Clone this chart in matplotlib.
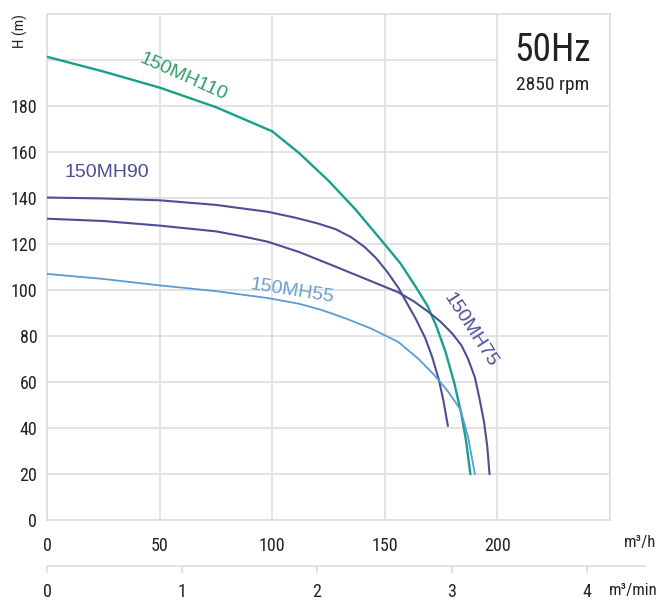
import matplotlib
matplotlib.use("Agg")
import matplotlib.pyplot as plt
from matplotlib import font_manager as fm

# ---- data ----
q_110 = [0, 25, 50, 75, 100, 112, 125, 137, 149, 157, 164, 169, 173, 177, 181, 184, 186, 188]
h_110 = [201.4, 195, 188, 179.5, 169, 159.5, 147.5, 135, 121, 111.5, 101, 93, 84, 73, 59, 46, 35, 20]

q_90 = [0, 25, 50, 75, 98, 110, 120, 128, 135, 141, 146, 151, 156, 160, 164, 168, 171, 174, 176, 178]
h_90 = [140.2, 139.8, 139, 137, 134, 131.5, 129, 126.5, 123, 118.7, 114, 108, 101, 94, 87, 79, 71, 61, 52, 41]

q_75 = [0, 25, 50, 75, 86, 98, 112, 126, 141, 156, 163, 170, 175, 180, 184, 187, 190, 192, 194, 195.5, 196.5]
h_75 = [131, 130, 128, 125.5, 123.5, 121, 116.5, 111, 105, 99, 95, 90, 86, 81, 76, 70, 62, 53, 43, 32, 20]

q_55 = [0, 25, 50, 75, 98, 112, 122, 133, 144, 156, 165, 172, 178, 183.6, 187, 190]
h_55 = [107, 104.8, 102, 99.5, 96.5, 94, 91.3, 87.5, 83.2, 77.4, 70, 63, 56, 48, 36, 20]

x_ticks = [0, 50, 100, 150, 200]
y_ticks = [0, 20, 40, 60, 80, 100, 120, 140, 160, 180]
grid_x = [0, 50, 100, 150, 200, 250]
grid_y = [0, 20, 40, 60, 80, 100, 120, 140, 160, 180, 200, 220]
min_ticks = [0, 1, 2, 3, 4]

# ---- fonts ----
def pick(cands):
    for c in cands:
        try:
            fm.findfont(fm.FontProperties(family=c), fallback_to_default=False)
            return c
        except Exception:
            pass
    return "DejaVu Sans"

FONT = pick(["Liberation Sans Narrow", "DejaVu Sans Condensed", "Roboto Condensed", "Liberation Sans"])
LAB = pick(["Liberation Sans", "Arimo", "DejaVu Sans"])
plt.rcParams["font.family"] = [FONT, "DejaVu Sans"]

GRID = "#dedede"
TXT = "#222222"
C110 = "#17a08c"
C110T = "#2f9e6a"
CDARK = "#4b4f93"
C55 = "#5b9bd5"
C55T = "#6a9fd2"

fig = plt.figure(figsize=(6.61, 6.00), dpi=100)
L, R, B, T = 47 / 661, 610 / 661, 1 - 520 / 600, 1 - 14 / 600
ax = fig.add_axes([L, B, R - L, T - B])
ax.set_xlim(0, 250)
ax.set_ylim(0, 220)

# grid
for gx in grid_x:
    ax.axvline(gx, color=GRID, lw=1.2, zorder=0)
for gy in grid_y:
    xmax = 200 / 250 if gy == 200 else 1
    ax.axhline(gy, xmin=0, xmax=xmax, color=GRID, lw=1.2, zorder=0)
for s in ax.spines.values():
    s.set_color(GRID)
    s.set_linewidth(1.2)

# curves
ax.plot(q_110, h_110, color=C110, lw=1.7, zorder=3)
ax.plot(q_90, h_90, color=CDARK, lw=1.5, zorder=3)
ax.plot(q_75, h_75, color=CDARK, lw=1.5, zorder=3)
ax.plot(q_55, h_55, color=C55, lw=1.3, zorder=3)

# labels on curves
lab = [LAB, "DejaVu Sans"]
ax.text(60.4, 192.4, "150MH110", color=C110T, fontsize=14, rotation=-24,
        ha="center", va="center", family=lab)
ax.text(26.6, 151, "150MH90", color=CDARK, fontsize=14, ha="center", va="center",
        family=lab)
ax.text(108.8, 99.3, "150MH55", color=C55T, fontsize=14, rotation=-9,
        ha="center", va="center", family=lab)
ax.text(188, 82.6, "150MH75", color=CDARK, fontsize=14, rotation=-57,
        ha="center", va="center", family=lab)

ax.text(224.7, 204.3, "50Hz", color=TXT, fontsize=27, ha="center", va="center")
ax.text(224.7, 189, "2850 rpm", color=TXT, fontsize=14, ha="center", va="center")

# ticks
ax.set_xticks(x_ticks)
ax.set_xticklabels([str(v) for v in x_ticks])
ax.set_yticks(y_ticks)
ax.set_yticklabels([str(v) for v in y_ticks])
ax.tick_params(axis="both", length=0, labelsize=13, colors=TXT)
ax.tick_params(axis="x", pad=12)
ax.tick_params(axis="y", pad=7)

fig.text(640 / 661, 1 - 543 / 600, "m³/h", fontsize=12, color=TXT,
         ha="center", va="center")
fig.text(20 / 661, 1 - 31 / 600, "H (m)", fontsize=11, color=TXT, rotation=90,
         ha="center", va="center")

# secondary m3/min axis
ax2 = fig.add_axes([L, 1 - 566 / 600, (645 - 47) / 661, 1e-4])
ax2.set_xlim(0, (645 - 47) / 135.0)
ax2.set_ylim(0, 1)
ax2.patch.set_visible(False)
for k in ["top", "left", "right"]:
    ax2.spines[k].set_visible(False)
ax2.spines["bottom"].set_color(GRID)
ax2.spines["bottom"].set_linewidth(1.2)
ax2.set_yticks([])
ax2.set_xticks(min_ticks)
ax2.set_xticklabels([str(v) for v in min_ticks])
ax2.tick_params(axis="x", length=5, width=1.2, color=GRID, labelsize=13,
                labelcolor=TXT, pad=7, direction="out")
fig.text(633 / 661, 1 - 590 / 600, "m³/min", fontsize=12, color=TXT,
         ha="center", va="center")

fig.savefig("out.png", dpi=100)
